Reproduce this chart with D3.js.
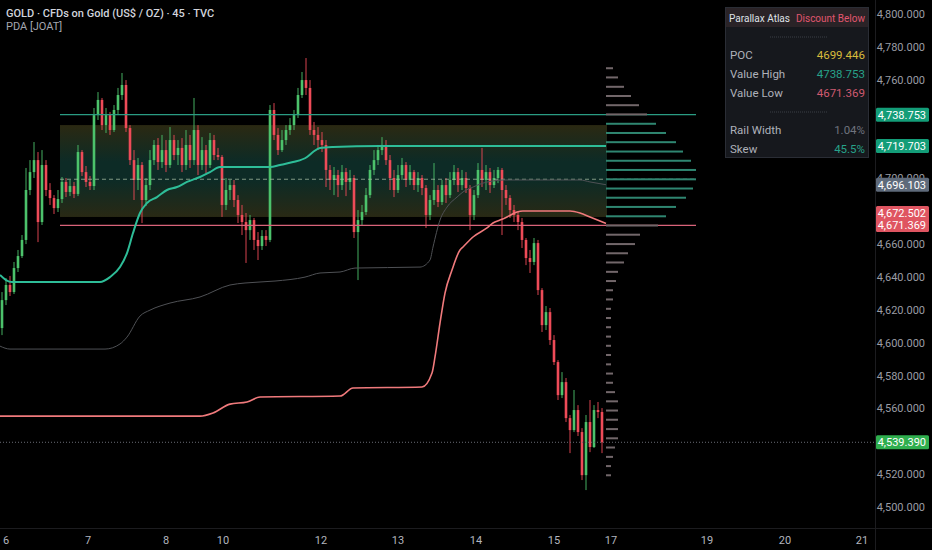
<!DOCTYPE html>
<html>
<head>
<meta charset="utf-8">
<script src="https://cdn.jsdelivr.net/npm/d3@7"></script>
<style>
  html, body { margin: 0; padding: 0; background: #000; }
  svg { display: block; font-family: Roboto, "Noto Sans", sans-serif; }
</style>
</head>
<body>
<svg id="chart" width="932" height="550"></svg>
<script>
'use strict';

// 45 min candles, open of each bar = close of the one before
const firstOpen = 4608.9;
const closes = [4625.9,4635.1,4630.8,4645.4,4652.7,4662.5,4692.9,4703.8,4711.1,4673.4,
    4708.1,4692.9,4688.0,4681.9,4687.4,4697.8,4691.7,4695.3,4690.5,4716.0,
    4703.8,4697.8,4695.3,4738.5,4747.7,4732.4,4738.5,4729.4,4741.6,4750.7,
    4756.8,4730.6,4711.1,4699.0,4708.1,4686.8,4695.9,4711.1,4720.3,4709.9,
    4717.2,4708.1,4723.3,4714.2,4718.5,4708.1,4720.3,4711.1,4729.4,4708.1,
    4717.2,4708.1,4723.3,4714.2,4713.0,4683.8,4692.9,4695.9,4686.8,4677.7,
    4673.4,4668.5,4674.6,4662.5,4658.8,4664.9,4662.5,4741.6,4726.4,4717.2,
    4723.3,4729.4,4732.4,4738.5,4750.7,4759.8,4755.0,4729.4,4726.4,4723.3,
    4720.3,4705.1,4699.0,4702.0,4695.9,4703.8,4697.8,4700.2,4667.3,4674.6,
    4679.5,4689.8,4705.1,4711.1,4717.2,4720.3,4711.1,4700.2,4692.9,4702.0,
    4708.1,4699.0,4703.8,4695.9,4700.2,4694.1,4677.7,4686.8,4692.9,4685.6,
    4695.9,4689.8,4699.0,4703.8,4695.9,4700.2,4694.1,4677.7,4689.8,4705.1,
    4699.0,4703.8,4695.9,4700.2,4705.1,4692.9,4688.0,4680.7,4677.7,4673.4,
    4662.5,4651.5,4649.1,4660.6,4632.0,4610.7,4618.6,4601.6,4588.2,4568.1,
    4576.0,4554.1,4546.8,4559.0,4545.6,4519.4,4551.7,4536.5,4559.0,4557.8,
    4539.39];
const highs = [4630.8,4639.3,4640.6,4649.1,4656.4,4665.5,4706.3,4711.1,4722.1,4716.0,
    4717.2,4711.1,4697.1,4689.8,4692.9,4700.8,4700.2,4699.0,4697.8,4720.3,
    4717.2,4707.5,4701.4,4742.8,4752.5,4748.9,4742.8,4740.4,4744.6,4755.0,
    4764.1,4759.8,4732.4,4717.2,4712.4,4709.9,4700.2,4717.2,4723.3,4724.5,
    4726.4,4723.3,4731.2,4726.4,4723.3,4724.5,4729.4,4726.4,4748.9,4732.4,
    4725.1,4720.3,4727.6,4726.4,4718.5,4714.2,4700.2,4699.0,4699.0,4689.8,
    4683.8,4678.9,4677.7,4675.9,4667.3,4668.5,4668.5,4744.6,4745.8,4730.6,
    4729.4,4732.4,4736.7,4741.6,4755.0,4764.7,4773.2,4759.8,4734.3,4731.2,
    4728.2,4723.3,4708.1,4706.9,4705.1,4708.1,4706.3,4705.1,4702.0,4680.7,
    4683.8,4694.1,4708.1,4717.2,4720.3,4725.1,4723.3,4714.2,4705.1,4708.1,
    4712.4,4709.9,4708.1,4705.1,4703.8,4702.0,4695.9,4689.8,4709.3,4695.9,
    4699.0,4700.2,4703.8,4708.1,4706.3,4705.1,4703.8,4695.9,4692.9,4709.3,
    4718.5,4708.1,4706.3,4705.1,4706.9,4706.3,4695.9,4689.8,4683.8,4679.5,
    4675.9,4663.7,4656.4,4663.7,4662.5,4633.2,4622.3,4621.1,4604.6,4589.4,
    4582.1,4578.5,4556.0,4571.2,4562.0,4548.0,4556.0,4565.1,4562.0,4563.9,
    4560.2];
const lows = [4604.6,4622.9,4628.4,4629.6,4643.0,4651.5,4660.0,4689.8,4700.2,4661.2,
    4671.6,4689.2,4683.8,4678.3,4679.5,4685.0,4688.6,4689.2,4688.0,4689.2,
    4701.4,4694.7,4692.9,4692.9,4735.5,4729.4,4727.6,4726.4,4728.2,4738.5,
    4747.7,4728.2,4708.1,4686.8,4692.9,4672.8,4683.2,4692.9,4708.1,4705.1,
    4706.3,4703.8,4706.3,4711.1,4708.1,4703.8,4705.1,4706.3,4708.1,4702.0,
    4705.1,4703.2,4706.3,4711.1,4711.1,4676.5,4680.7,4686.8,4682.5,4672.8,
    4665.5,4648.5,4662.5,4656.4,4650.3,4656.4,4658.8,4661.2,4723.3,4714.2,
    4716.0,4720.3,4726.4,4729.4,4736.7,4748.9,4750.7,4726.4,4720.3,4717.2,
    4716.0,4694.7,4692.9,4689.8,4688.6,4692.9,4689.2,4692.9,4663.7,4638.1,
    4671.6,4677.7,4688.0,4702.0,4708.1,4714.2,4708.1,4692.9,4688.6,4691.1,
    4699.0,4694.7,4695.9,4692.9,4691.7,4689.8,4669.8,4674.6,4683.8,4682.5,
    4683.8,4685.0,4688.0,4695.9,4691.7,4692.9,4691.1,4668.5,4674.6,4688.0,
    4694.7,4692.9,4691.1,4694.1,4697.1,4665.5,4683.8,4675.9,4673.4,4668.5,
    4657.6,4647.2,4642.4,4647.2,4629.0,4606.5,4607.7,4598.6,4586.4,4565.1,
    4566.3,4551.7,4532.8,4545.6,4543.2,4516.4,4510.3,4533.4,4535.9,4554.1,
    4532.8];

// x axis: day labels and the bar index they sit on
const dayLabels = ['6', '7', '8', '10', '12', '13', '14', '15', '17', '19', '20', '21'];
const dayBars = [1, 21.5, 41, 55.25, 79.75, 99, 118.5, 138, 152.25, 176.25, 195.75, 215];

const priceTicks = [4800, 4780, 4760, 4740, 4720, 4700, 4680, 4660, 4640, 4620,
    4600, 4580, 4560, 4540, 4520, 4500];

// indicator lines as [bar, price]
const tealLine = [[-0.5, 4641.2], [1, 4638.1], [2.5, 4636.9], [24.5, 4636.9], [27, 4639.9],
    [29.5, 4646.0], [31.25, 4654.5], [32.75, 4666.7], [34.5, 4678.9], [36.25, 4685.0],
    [38.75, 4688.6], [41.25, 4692.9], [43.75, 4694.7], [46.25, 4697.8], [49.5, 4700.8],
    [52, 4703.8], [54.5, 4706.9], [57.75, 4706.9], [67, 4706.9], [69.5, 4708.1],
    [72.75, 4709.9], [76.25, 4713.0], [77.75, 4716.0], [79.5, 4718.5], [82.75, 4719.1],
    [94.5, 4719.703], [151, 4719.703]];
const grayLine = [[-0.5, 4597.9], [2, 4596.1], [25.75, 4596.1], [29.5, 4599.2], [31.25, 4603.4],
    [34.5, 4616.2], [37, 4619.8], [42, 4624.1], [49.5, 4627.8], [57, 4635.1],
    [60.75, 4636.3], [68.25, 4637.5], [75.75, 4639.9], [79.5, 4642.4], [84.5, 4643.0],
    [88.25, 4645.4], [104.5, 4646.0], [107, 4650.3], [107.75, 4658.2], [109.5, 4674.6],
    [111.25, 4682.5], [113.75, 4688.6], [115.25, 4691.7], [117.75, 4694.7], [120.25, 4697.1],
    [122.75, 4698.4], [125.25, 4699.0], [144.5, 4699.0], [147, 4697.8], [151, 4696.103]];
const pinkLine = [[-0.5, 4555.3], [49.5, 4555.3], [52.75, 4557.2], [57, 4562.6], [61.25, 4563.9],
    [64.5, 4566.9], [84.5, 4567.5], [87.75, 4572.4], [105, 4573.0], [107.5, 4581.5],
    [108.25, 4591.3], [109.5, 4611.9], [110.75, 4630.2], [112.5, 4644.2], [114.5, 4656.4],
    [115.25, 4658.2], [117.75, 4664.3], [121.25, 4669.8], [122.75, 4672.8], [124.5, 4674.6],
    [126.25, 4676.5], [128.75, 4679.5], [130.25, 4680.1], [142, 4680.1], [144.5, 4678.9],
    [147, 4676.5], [151, 4672.502]];

// value area
const poc = 4699.446;
const valueHigh = 4738.753;
const valueLow = 4671.369;
const railTop = 4732.4;
const railBottom = 4676.5;
const zoneStartBar = 14.5;
const zoneEndBar = 151.25;
const profileEndBar = 173.5;

// volume profile bins
const profileLevels = [4767.0, 4761.4, 4755.7, 4750.1, 4744.5, 4738.9, 4733.2, 4727.6, 4722.0, 4716.3,
    4710.7, 4705.1, 4699.4, 4693.8, 4688.2, 4682.6, 4676.9, 4671.3, 4665.7, 4660.0,
    4654.4, 4648.8, 4643.1, 4637.5, 4631.9, 4626.3, 4620.6, 4615.0, 4609.4, 4603.7,
    4598.1, 4592.5, 4586.8, 4581.2, 4575.6, 4569.9, 4564.3, 4558.7, 4553.1, 4547.4,
    4541.8, 4536.2, 4530.5, 4524.9, 4519.3];
const profileVol = [7, 12, 18, 25, 33, 41, 50, 60, 70, 77, 85, 90, 90, 87, 80, 70, 60, 52, 34, 29,
    22, 18, 12, 10, 7, 7, 5, 5, 5, 5, 5, 5, 5, 7, 7, 9, 12, 12, 12, 12,
    12, 9, 7, 5, 5];

// table rows
const tableLabels = ['POC', 'Value High', 'Value Low', 'Rail Width', 'Skew'];
const tableValues = ['4699.446', '4738.753', '4671.369', '1.04%', '45.5%'];

function AtlasChart(selector) {
    this.svg = d3.select(selector);
    this.plotRight = 873;
    this.plotBottom = 528;
    this.x = d3.scaleLinear().domain([-0.5, 217.75]).range([0, this.plotRight]);
    this.y = d3.scaleLinear().domain([4500, 4800]).range([507, 14]);
    this.upColor = '#4cc26b';
    this.downColor = '#ee4b58';
    return this;
}

AtlasChart.prototype.drawZone = function drawZone() {
    const self = this;
    const defs = self.svg.append('defs');
    const grad = defs.append('linearGradient')
        .attr('id', 'railFill')
        .attr('x1', 0).attr('y1', 0).attr('x2', 0).attr('y2', 1);
    grad.append('stop').attr('offset', '0%').attr('stop-color', '#2b2912');
    grad.append('stop').attr('offset', '40%').attr('stop-color', '#0d2b26');
    grad.append('stop').attr('offset', '60%').attr('stop-color', '#0d2b26');
    grad.append('stop').attr('offset', '100%').attr('stop-color', '#292914');

    self.svg.append('rect')
        .attr('x', self.x(zoneStartBar))
        .attr('y', self.y(railTop))
        .attr('width', self.x(zoneEndBar) - self.x(zoneStartBar))
        .attr('height', self.y(railBottom) - self.y(railTop))
        .attr('fill', 'url(#railFill)');
};

AtlasChart.prototype.drawCandles = function drawCandles() {
    const self = this;
    const bars = closes.map((c, i) => ({
        i: i,
        o: i === 0 ? firstOpen : closes[i - 1],
        h: highs[i],
        l: lows[i],
        c: c
    }));
    const g = self.svg.append('g').attr('class', 'candles');
    const color = (d) => d.c >= d.o ? self.upColor : self.downColor;

    g.selectAll('line.wick').data(bars).enter().append('line')
        .attr('class', 'wick')
        .attr('x1', (d) => self.x(d.i))
        .attr('x2', (d) => self.x(d.i))
        .attr('y1', (d) => self.y(d.h))
        .attr('y2', (d) => self.y(d.l))
        .attr('stroke', color)
        .attr('stroke-width', 0.9);

    g.selectAll('rect.body').data(bars).enter().append('rect')
        .attr('class', 'body')
        .attr('x', (d) => self.x(d.i) - 1.3)
        .attr('y', (d) => self.y(Math.max(d.o, d.c)))
        .attr('width', 2.6)
        .attr('height', (d) => Math.max(1, Math.abs(self.y(d.o) - self.y(d.c))))
        .attr('fill', color);
};

AtlasChart.prototype.drawLevels = function drawLevels() {
    const self = this;
    const x0 = self.x(zoneStartBar);
    const x1 = self.x(profileEndBar);

    self.svg.append('line')
        .attr('x1', x0).attr('x2', x1)
        .attr('y1', self.y(valueHigh)).attr('y2', self.y(valueHigh))
        .attr('stroke', '#2a9c83').attr('stroke-width', 1.2);

    self.svg.append('line')
        .attr('x1', x0).attr('x2', x1)
        .attr('y1', self.y(valueLow)).attr('y2', self.y(valueLow))
        .attr('stroke', '#d9637a').attr('stroke-width', 1.2);

    self.svg.append('line')
        .attr('x1', x0).attr('x2', x1)
        .attr('y1', self.y(poc)).attr('y2', self.y(poc))
        .attr('stroke', '#a9bfa3').attr('stroke-width', 1)
        .attr('stroke-dasharray', '4,3')
        .attr('opacity', 0.75);
};

AtlasChart.prototype.drawLines = function drawLines() {
    const self = this;
    const line = d3.line()
        .x((d) => self.x(d[0]))
        .y((d) => self.y(d[1]))
        .curve(d3.curveMonotoneX);

    self.svg.append('path').datum(grayLine)
        .attr('d', line).attr('fill', 'none')
        .attr('stroke', '#4f5155').attr('stroke-width', 1);
    self.svg.append('path').datum(tealLine)
        .attr('d', line).attr('fill', 'none')
        .attr('stroke', '#2ebd98').attr('stroke-width', 2);
    self.svg.append('path').datum(pinkLine)
        .attr('d', line).attr('fill', 'none')
        .attr('stroke', '#f07a7c').attr('stroke-width', 1.6);
};

AtlasChart.prototype.drawProfile = function drawProfile() {
    const self = this;
    const len = d3.scaleLinear().domain([0, d3.max(profileVol)]).range([0, 90]);
    const start = self.x(zoneEndBar) - 1;
    const data = profileLevels.map((p, k) => ({ p: p, v: profileVol[k] }));

    self.svg.append('g').selectAll('rect').data(data).enter().append('rect')
        .attr('x', start)
        .attr('y', (d) => self.y(d.p) - 1)
        .attr('width', (d) => len(d.v))
        .attr('height', 2)
        .attr('fill', (d) => (d.p > valueLow + 1 && d.p < valueHigh - 1) ? '#2f8671' : '#72676a');
};

AtlasChart.prototype.drawAxes = function drawAxes() {
    const self = this;
    const fmt = d3.format(',.3f');
    const last = closes[closes.length - 1];

    self.svg.append('line')
        .attr('x1', 875.5).attr('x2', 875.5).attr('y1', 0).attr('y2', 550)
        .attr('stroke', '#1c1c1f');
    self.svg.append('line')
        .attr('x1', 0).attr('x2', 932).attr('y1', self.plotBottom + 0.5).attr('y2', self.plotBottom + 0.5)
        .attr('stroke', '#1c1c1f');

    // last price dotted line
    self.svg.append('line')
        .attr('x1', 0).attr('x2', 875)
        .attr('y1', self.y(last)).attr('y2', self.y(last))
        .attr('stroke', '#6a6d75').attr('stroke-dasharray', '1,2');

    const tealEnd = tealLine[tealLine.length - 1][1];
    const grayEnd = grayLine[grayLine.length - 1][1];
    const pinkEnd = pinkLine[pinkLine.length - 1][1];
    const tags = [
        { lines: [valueHigh], y: self.y(valueHigh), bg: '#139d78' },
        { lines: [tealEnd], y: self.y(tealEnd), bg: '#139d78' },
        { lines: [grayEnd], y: self.y(grayEnd), bg: '#5e6a7a' },
        { lines: [pinkEnd, valueLow], y: 219, bg: '#df5561' },
        { lines: [last], y: self.y(last), bg: '#2fae4e' }
    ];
    tags.forEach((t) => {
        t.h = 14 * t.lines.length - (t.lines.length - 1) * 2;
        t.top = t.y - t.h / 2;
    });

    // ticks hidden under a price tag are not drawn
    const visibleTicks = priceTicks.filter((p) => {
        const ty = self.y(p);
        return !tags.some((t) => ty > t.top + 2 && ty < t.top + t.h - 2);
    });

    self.svg.append('g').selectAll('text').data(visibleTicks).enter().append('text')
        .attr('x', 925)
        .attr('y', (d) => self.y(d) + 4)
        .attr('text-anchor', 'end')
        .attr('font-size', 11)
        .attr('fill', '#9a9ca4')
        .text((d) => fmt(d));

    self.svg.append('g').selectAll('text').data(dayLabels).enter().append('text')
        .attr('x', (d, i) => self.x(dayBars[i]))
        .attr('y', 544)
        .attr('text-anchor', 'middle')
        .attr('font-size', 11)
        .attr('fill', '#b2b5be')
        .text((d) => d);

    tags.forEach((t) => {
        self.svg.append('rect')
            .attr('x', 876).attr('y', t.top)
            .attr('width', 53).attr('height', t.h)
            .attr('rx', 1.5)
            .attr('fill', t.bg);
        t.lines.forEach((v, j) => {
            self.svg.append('text')
                .attr('x', 926)
                .attr('y', t.top + 11 + j * 12)
                .attr('text-anchor', 'end')
                .attr('font-size', 11)
                .attr('fill', '#ffffff')
                .text(fmt(v));
        });
    });
};

AtlasChart.prototype.drawTable = function drawTable() {
    const self = this;
    const g = self.svg.append('g');
    const valueColors = ['#d8bb3c', '#27a38a', '#cf5a70', '#6f737d', '#27a38a'];
    const rowY = [59, 78, 97, 134, 153];

    g.append('rect')
        .attr('x', 725.5).attr('y', 7.5).attr('width', 143).attr('height', 150)
        .attr('fill', '#16181d').attr('stroke', '#2a2d35');
    g.append('rect')
        .attr('x', 726).attr('y', 8).attr('width', 142).attr('height', 19)
        .attr('fill', '#2a2327');
    g.append('text')
        .attr('x', 729).attr('y', 22)
        .attr('font-size', 11.5).attr('fill', '#dfe1e6')
        .attr('textLength', 61).attr('lengthAdjust', 'spacingAndGlyphs')
        .text('Parallax Atlas');
    g.append('text')
        .attr('x', 796).attr('y', 22)
        .attr('font-size', 11.5).attr('fill', '#e0566e')
        .attr('textLength', 69).attr('lengthAdjust', 'spacingAndGlyphs')
        .text('Discount Below');

    [37, 112].forEach((sy) => {
        g.append('line')
            .attr('x1', 770).attr('x2', 828).attr('y1', sy).attr('y2', sy)
            .attr('stroke', '#3b3e46').attr('stroke-dasharray', '1,1');
    });

    tableLabels.forEach((label, i) => {
        g.append('text')
            .attr('x', 730).attr('y', rowY[i])
            .attr('font-size', 11.5).attr('fill', '#aeb1ba')
            .text(label);
        g.append('text')
            .attr('x', 865).attr('y', rowY[i])
            .attr('text-anchor', 'end')
            .attr('font-size', 11.5).attr('fill', valueColors[i])
            .text(tableValues[i]);
    });
};

AtlasChart.prototype.drawTitle = function drawTitle() {
    const self = this;
    self.svg.append('text')
        .attr('x', 6).attr('y', 17)
        .attr('font-size', 11).attr('font-weight', 500).attr('fill', '#d1d4dc')
        .text('GOLD · CFDs on Gold (US$ / OZ) · 45 · TVC');
    self.svg.append('text')
        .attr('x', 6).attr('y', 30)
        .attr('font-size', 11).attr('fill', '#a3a6af')
        .text('PDA [JOAT]');
};

const chart = new AtlasChart('#chart');
chart.svg.append('rect').attr('width', 932).attr('height', 550).attr('fill', '#000');
chart.drawZone();
chart.drawCandles();
chart.drawLevels();
chart.drawLines();
chart.drawProfile();
chart.drawAxes();
chart.drawTable();
chart.drawTitle();
</script>
</body>
</html>
